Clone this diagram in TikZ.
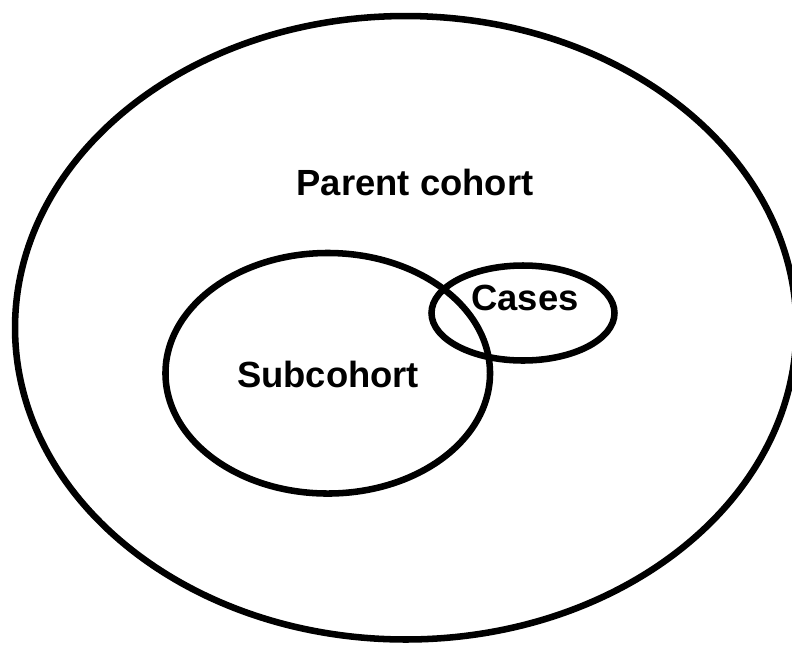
\documentclass[tikz,border=0pt]{standalone}
\usepackage{fontspec}
\setmainfont{Liberation Sans}
\usetikzlibrary{shapes.geometric,positioning}
\tikzset{
    % Cohort region style
    region/.style={
        ellipse, draw=black, line width=4.9pt, fill=none, inner sep=0pt
    },
    % Label style
    tag/.style={
        draw=none, fill=none, inner sep=0pt,
        font=\fontsize{27.3}{32}\selectfont\bfseries
    }
}
\begin{document}
\begin{tikzpicture}[x=0.75pt,y=-0.75pt]
\useasboundingbox (0,0) rectangle (792,644);
\clip (0,0) rectangle (792,644);

% Regions
\node[region, minimum width=586pt, minimum height=467.6pt] (parent) at (405.7,327.75) {};
\node[region, minimum width=243.4pt, minimum height=180.4pt] (sub) at (327.75,373.25) {};
\node[region, minimum width=137.25pt, minimum height=71.25pt] (cases) at (523,313) {};

% Labels
\node[tag] (parentlbl) at (415,182) {Parent cohort};
\node[tag] (sublbl) at (328,374) {Subcohort};
\node[tag] (caseslbl) at (525,298) {Cases};

\end{tikzpicture}
\end{document}
